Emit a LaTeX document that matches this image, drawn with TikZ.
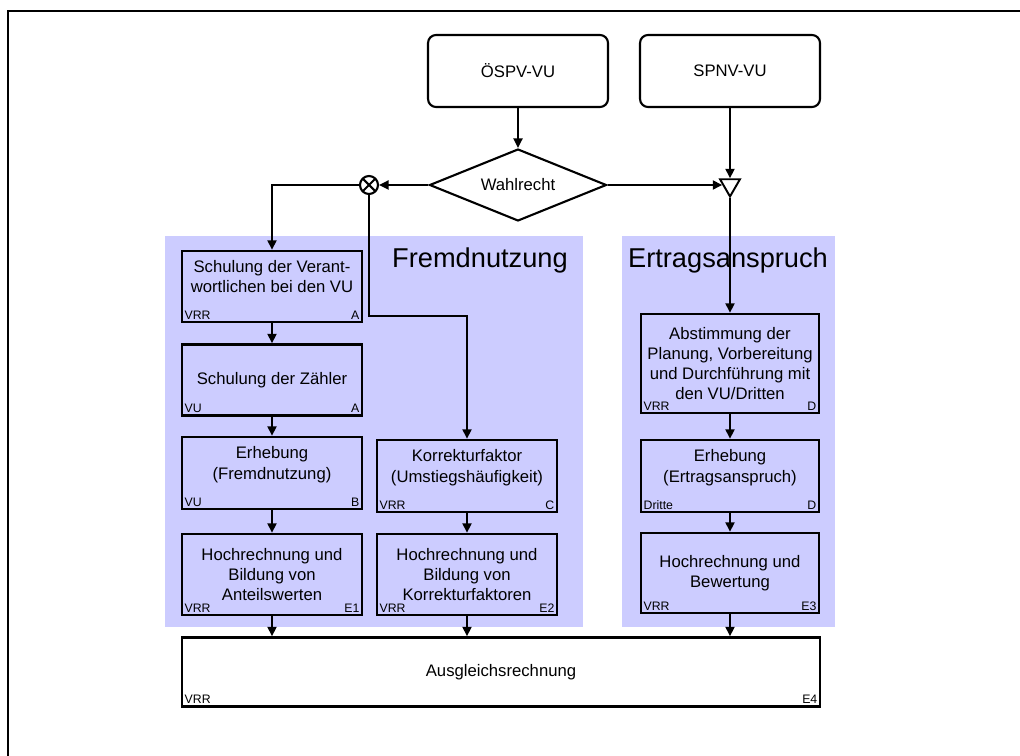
\documentclass[tikz,border=0pt]{standalone}
\usepackage{fontspec}
\setmainfont{Liberation Sans}
\usetikzlibrary{shapes.geometric,arrows.meta}
\definecolor{areablue}{RGB}{204,204,255}

\begin{document}
\begin{tikzpicture}
[x=.02cm,y=-.02cm,font=\fontsize{9.5}{11.5}\selectfont]
\tikzset{box/.style={draw,line width=1.4pt,minimum width=3.6cm,align=center,inner sep=1pt}}
\tikzset{src/.style={draw,line width=1.2pt,rounded corners=.16cm,minimum width=3.6cm,minimum height=1.44cm}}
\tikzset{tag/.style={font=\fontsize{7}{8}\selectfont,inner sep=2pt}}
\tikzset{orgtag/.style={label={[tag,anchor=south west]south west:#1}}}
\tikzset{phasetag/.style={label={[tag,anchor=south east]south east:#1}}}
\tikzset{flow/.style={line width=1.1pt,-{Triangle[length=1.9mm,width=1.8mm]}}}
\useasboundingbox (0,0) rectangle (1020,756);
\draw [line width=1.2pt] (8,11) rectangle (1040,780);

% areas
\fill [areablue] (165,236) rectangle (583,627);
\fill [areablue] (622,236) rectangle (835,627);
\node [font=\fontsize{15.5}{18}\selectfont] (fn) at (480,260) {Fremdnutzung};
\node [font=\fontsize{15.5}{18}\selectfont] (ea) at (728,260) {Ertragsanspruch};

% top
\node [src] (os) at (518,71) {ÖSPV-VU};
\node [src] (sp) at (730,71) {SPNV-VU};
\node [diamond,draw,line width=1.2pt,fill=white,inner sep=0pt,aspect=2.46,minimum width=3.54cm,minimum height=1.44cm] (wr) at (518,185) {Wahlrecht};
\node [circle,draw,line width=1.2pt,fill=white,inner sep=0pt,minimum size=.36cm,
  path picture={\draw [line width=1.2pt] (path picture bounding box.north west) -- (path picture bounding box.south east)
    (path picture bounding box.north east) -- (path picture bounding box.south west);}] (cx) at (369,185) {};
\node [regular polygon,regular polygon sides=3,shape border rotate=180,draw,line width=1.1pt,fill=white,inner sep=0pt,minimum size=.46cm] (tr) at (730,185) {};
\coordinate (kb) at (467,316);

% Fremdnutzung
\node [box,minimum height=1.42cm,orgtag=VRR,phasetag=A] (s1) at (272,286.5) {Schulung der Verant-\\wortlichen bei den VU\\\mbox{}};
\node [box,minimum height=1.42cm,orgtag=VU,phasetag=A] (s2) at (272,380) {Schulung der Zähler};
\node [box,minimum height=1.44cm,orgtag=VU,phasetag=B] (e1) at (272,473) {Erhebung\\(Fremdnutzung)\\\mbox{}};
\node [box,minimum height=1.62cm,orgtag=VRR,phasetag=E1] (h1) at (272,574.5) {Hochrechnung und\\Bildung von\\Anteilswerten};
\node [box,minimum height=1.44cm,orgtag=VRR,phasetag=C] (k1) at (467,476) {Korrekturfaktor\\(Umstiegshäufigkeit)\\\mbox{}};
\node [box,minimum height=1.62cm,orgtag=VRR,phasetag=E2] (h2) at (467,574.5) {Hochrechnung und\\Bildung von\\Korrekturfaktoren};

% Ertragsanspruch
\node [box,minimum width=3.56cm,minimum height=1.98cm,orgtag=VRR,phasetag=D] (ab) at (730,363.5) {Abstimmung der\\Planung, Vorbereitung\\und Durchführung mit\\den VU/Dritten};
\node [box,minimum width=3.56cm,minimum height=1.44cm,orgtag=Dritte,phasetag=D] (e2) at (730,476) {Erhebung\\(Ertragsanspruch)\\\mbox{}};
\node [box,minimum width=3.56cm,minimum height=1.6cm,orgtag=VRR,phasetag=E3] (h3) at (730,573) {Hochrechnung und\\Bewertung};

\node [box,fill=white,minimum width=12.76cm,minimum height=1.38cm,orgtag=VRR,phasetag=E4] (au) at (501,672) {Ausgleichsrechnung};

\foreach \from/\to in {os/wr,sp/tr,wr/cx,wr/tr,tr/ab,s1/s2,s2/e1,e1/h1,k1/h2,ab/e2,e2/h3}
	\draw [flow] (\from) -- (\to);
\foreach \from in {h1,h2,h3}
	\draw [flow] (\from) -- (\from |- au.north);
\draw [flow] (cx.west) -| (s1.north);
\draw [flow] (cx.south) |- (kb) -- (k1.north);
\end{tikzpicture}
\end{document}
